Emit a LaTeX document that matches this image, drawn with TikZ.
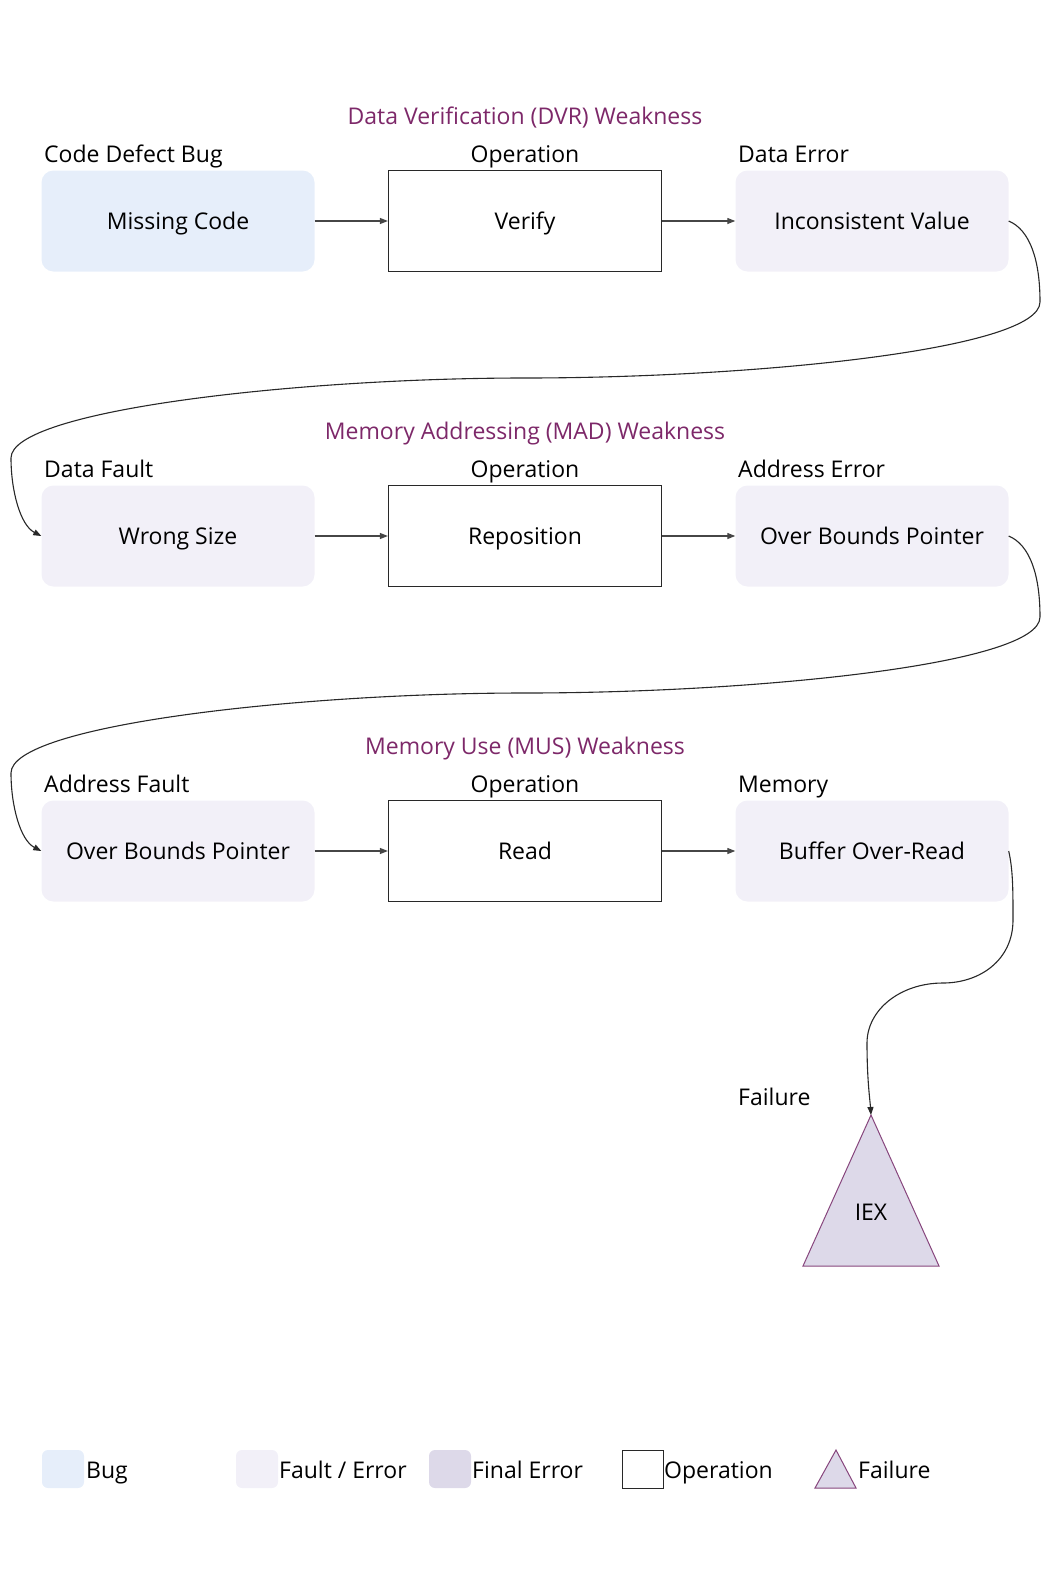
\documentclass[tikz,border=0pt]{standalone}
\usepackage{fontspec}
\setmainfont{Open Sans}
\usepackage{tikz}
\usetikzlibrary{arrows.meta, positioning}
\definecolor{mytitle}{RGB}{125,40,105}
\definecolor{mydark}{RGB}{40,40,40}
\definecolor{mygray}{RGB}{70,70,70}
\definecolor{mypurple}{RGB}{135,70,125}
\definecolor{fillbug}{RGB}{230,238,250}
\definecolor{fillfault}{RGB}{242,240,248}
\definecolor{fillfinal}{RGB}{221,217,233}
\tikzset{
  bugbox/.style={rectangle, fill=fillbug, minimum width=273pt,
    minimum height=101pt, rounded corners=12pt, font=\boxfont,
    text height=20.7pt, text depth=4.4pt},
  faultbox/.style={rectangle, fill=fillfault, minimum width=273pt,
    minimum height=101pt, rounded corners=12pt, font=\boxfont,
    text height=20.7pt, text depth=4.4pt},
  opbox/.style={rectangle, draw=mydark, fill=white, minimum width=273pt,
    minimum height=101pt, line width=1.2pt, font=\boxfont,
    text height=20.7pt, text depth=4.4pt},
  failtri/.style={draw=mypurple, fill=fillfinal, line width=1pt},
  titletext/.style={inner sep=0pt, anchor=base, text=mytitle, font=\boxfont},
  labeltext/.style={inner sep=0pt, anchor=base west, font=\boxfont},
  keytext/.style={inner sep=0pt, anchor=base west, font=\boxfont},
  arrow/.style={-{Triangle[length=8pt,width=6pt]}, line width=1.2pt, color=mygray},
  curvearrow/.style={-{Triangle[length=8pt,width=6pt]}, line width=1.1pt, color=mydark}
}
\newcommand{\boxfont}{\fontsize{23}{27}\selectfont}

\begin{document}
\begin{tikzpicture}[x=1pt, y=-1pt]
  \useasboundingbox (0,0) rectangle (1049,1579);

  % DVR weakness
  \node[titletext] (dvr) at (525,124) {Data Verification (DVR) Weakness};
  \node[bugbox] (missing) at (178,221) {Missing Code};
  \node[opbox] (verify) at (525,221) {Verify};
  \node[faultbox] (incons) at (872,221) {Inconsistent Value};
  \node[labeltext] (l11) at (44,162) {Code Defect Bug};
  \node[labeltext, anchor=base] (l12) at (525,162) {Operation};
  \node[labeltext] (l13) at (738,162) {Data Error};
  \draw[arrow] (missing) -- (verify);
  \draw[arrow] (verify) -- (incons);

  % MAD weakness
  \node[titletext] (mad) at (525,439) {Memory Addressing (MAD) Weakness};
  \node[faultbox] (wrong) at (178,536) {Wrong Size};
  \node[opbox] (repos) at (525,536) {Reposition};
  \node[faultbox] (overa) at (872,536) {Over Bounds Pointer};
  \node[labeltext] (l21) at (44,477) {Data Fault};
  \node[labeltext, anchor=base] (l22) at (525,477) {Operation};
  \node[labeltext] (l23) at (738,477) {Address Error};
  \draw[arrow] (wrong) -- (repos);
  \draw[arrow] (repos) -- (overa);

  % MUS weakness
  \node[titletext] (mus) at (525,754) {Memory Use (MUS) Weakness};
  \node[faultbox] (overb) at (178,851) {Over Bounds Pointer};
  \node[opbox] (read) at (525,851) {Read};
  \node[faultbox] (buffer) at (872,851) {Buffer Over-Read};
  \node[labeltext] (l31) at (44,792) {Address Fault};
  \node[labeltext, anchor=base] (l32) at (525,792) {Operation};
  \node[labeltext] (l33) at (738,792) {Memory};
  \draw[arrow] (overb) -- (read);
  \draw[arrow] (read) -- (buffer);

  % failure
  \coordinate (iextop) at (871,1115);
  \draw[failtri] (iextop) -- (939,1266) -- (803,1266) -- cycle;
  \node[font=\boxfont, inner sep=0pt, anchor=base] (iex) at (871,1220) {IEX};
  \node[labeltext] (l41) at (738,1105) {Failure};

  % links between weaknesses
  \draw[curvearrow] (incons.east) .. controls (1030,230) and (1040,260) .. (1040,302)
    .. controls (1040,350) and (750,378) .. (525,378)
    .. controls (300,378) and (11,410) .. (11,458)
    .. controls (11,490) and (20,525) .. (wrong.west);
  \draw[curvearrow] (overa.east) .. controls (1030,545) and (1040,575) .. (1040,617)
    .. controls (1040,665) and (750,693) .. (525,693)
    .. controls (300,693) and (11,725) .. (11,773)
    .. controls (11,805) and (20,840) .. (overb.west);
  \draw[curvearrow] (buffer.east) .. controls (1013,870) and (1013,890) .. (1013,920)
    .. controls (1013,960) and (980,983) .. (943,983)
    .. controls (900,983) and (867,1010) .. (867,1043)
    .. controls (867,1080) and (870,1100) .. (iextop);

  % legend
  \node[bugbox, minimum width=42pt, minimum height=38pt, rounded corners=6pt] (kbug) at (63,1469) {};
  \node[keytext] (tbug) at (86,1478) {Bug};
  \node[faultbox, minimum width=42pt, minimum height=38pt, rounded corners=6pt] (kfault) at (257,1469) {};
  \node[keytext] (tfault) at (279,1478) {Fault / Error};
  \node[faultbox, fill=fillfinal, minimum width=42pt, minimum height=38pt, rounded corners=6pt] (kfinal) at (450,1469) {};
  \node[keytext] (tfinal) at (472,1478) {Final Error};
  \node[opbox, line width=1pt, minimum width=41pt, minimum height=38pt] (kop) at (643,1469) {};
  \node[keytext] (top) at (664,1478) {Operation};
  \draw[failtri] (836,1450) -- (856,1488) -- (815,1488) -- cycle;
  \node[keytext] (tfail) at (858,1478) {Failure};
\end{tikzpicture}
\end{document}
